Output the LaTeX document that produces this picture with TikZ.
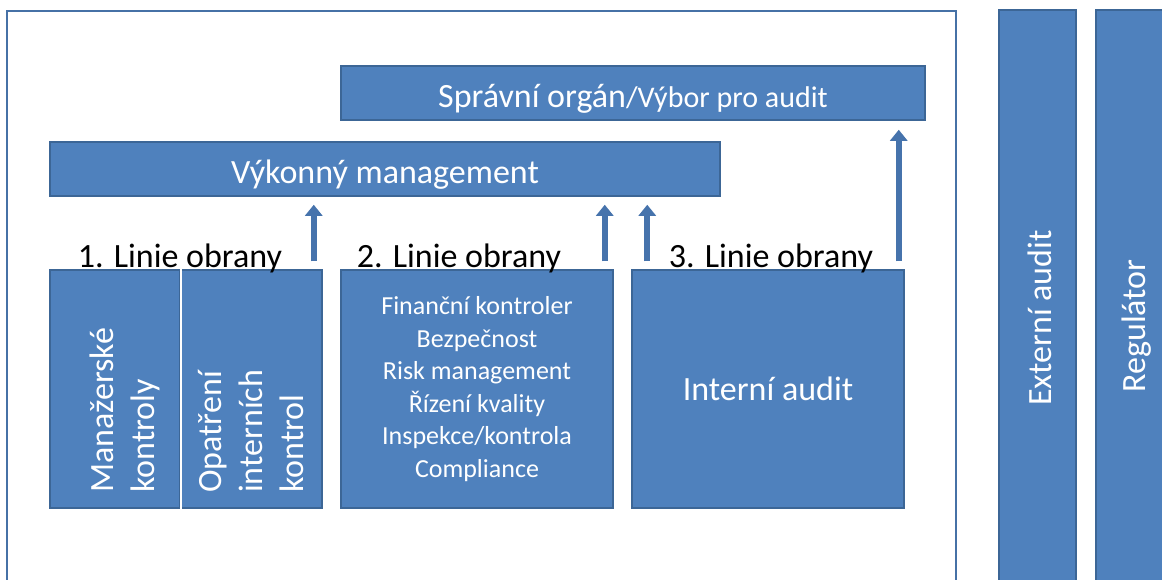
\documentclass[tikz,border=0pt]{standalone}
\usepackage{fontspec}
\setmainfont{Carlito}
\usetikzlibrary{arrows.meta,calc}
\definecolor{boxfill}{HTML}{4F81BD}
\definecolor{boxline}{HTML}{3C6696}
\definecolor{framecol}{HTML}{4671A6}
\definecolor{arrowblue}{HTML}{4673AC}
\begin{document}
\begin{tikzpicture}[x=1pt,y=-1pt,
  blk/.style={draw=boxline, line width=1.5pt, fill=boxfill, inner sep=0pt, text=white},
  big/.style={font=\fontsize{34}{41}\selectfont},
  small/.style={font=\fontsize{26}{32.6}\selectfont},
  vtext/.style={big, text=white, rotate=90, inner sep=0pt},
  uparrow/.style={draw=arrowblue, line width=6pt, -{Triangle[width=17pt,length=11pt]}},
  linelabel/.style={big, text=black, anchor=base, inner sep=0pt}]
\useasboundingbox (0,0) rectangle (1162,579);
\clip (0,0) rectangle (1162,579);

% organisation frame
\draw[draw=framecol, line width=2.5pt] (7,11) rectangle (956,620);

% upper boxes
\node[blk, text height=28pt, text depth=0pt, minimum width=584pt, minimum height=54pt] (board) at (633,93)
  {{\fontsize{34}{41}\selectfont Správní orgán}{\fontsize{30}{36}\selectfont /Výbor pro audit}};
\node[blk, big, text height=28pt, text depth=0pt, minimum width=670pt, minimum height=54pt] (exec) at (385,169) {Výkonný management};

% first line of defence
\node[blk, minimum width=130pt, minimum height=238pt] (mk) at (115,389) {};
\node[blk, minimum width=142pt, minimum height=238pt] (oik) at (251,389) {};
\draw[white, line width=2.5pt] (mk.north east) -- ($(mk.south east)+(0,9)$);
\node[vtext, anchor=west, align=left] (mktxt) at (125,493) {Manažerské\\kontroly};
\node[vtext, anchor=west, align=left] (oiktxt) at (251,493) {Opatření\\interních\\kontrol};

% second line of defence
\node[blk, small, align=center, minimum width=272pt, minimum height=238pt] (second) at (477,389)
  {Finanční kontroler\\Bezpečnost\\Risk management\\Řízení kvality\\Inspekce/kontrola\\Compliance};

% third line of defence
\node[blk, big, minimum width=272pt, minimum height=238pt] (third) at (768,389) {Interní audit};

% external parties
\node[blk, minimum width=77pt, minimum height=610pt] (ext) at (1037.5,315) {};
\node[vtext] (exttxt) at (1040,318) {Externí audit};
\node[blk, minimum width=82pt, minimum height=610pt] (reg) at (1137,315) {};
\node[vtext] (regtxt) at (1137,326) {Regulátor};

% reporting arrows
\draw[uparrow] ($(oik.north east)+(-9,-8)$) -- ($(oik.north east |- exec.south)+(-9,8)$);
\draw[uparrow] ($(second.north east)+(-9,-8)$) -- ($(second.north east |- exec.south)+(-9,8)$);
\draw[uparrow] ($(third.north west)+(16,-8)$) -- ($(third.north west |- exec.south)+(16,8)$);
\draw[uparrow] ($(third.north east)+(-6,-8)$) -- ($(third.north east |- board.south)+(-6,9)$);

% line labels
\node[linelabel] (lab1) at (180,267) {1. Linie obrany};
\node[linelabel] (lab2) at (459,267) {2. Linie obrany};
\node[linelabel] (lab3) at (771,267) {3. Linie obrany};
\end{tikzpicture}
\end{document}
